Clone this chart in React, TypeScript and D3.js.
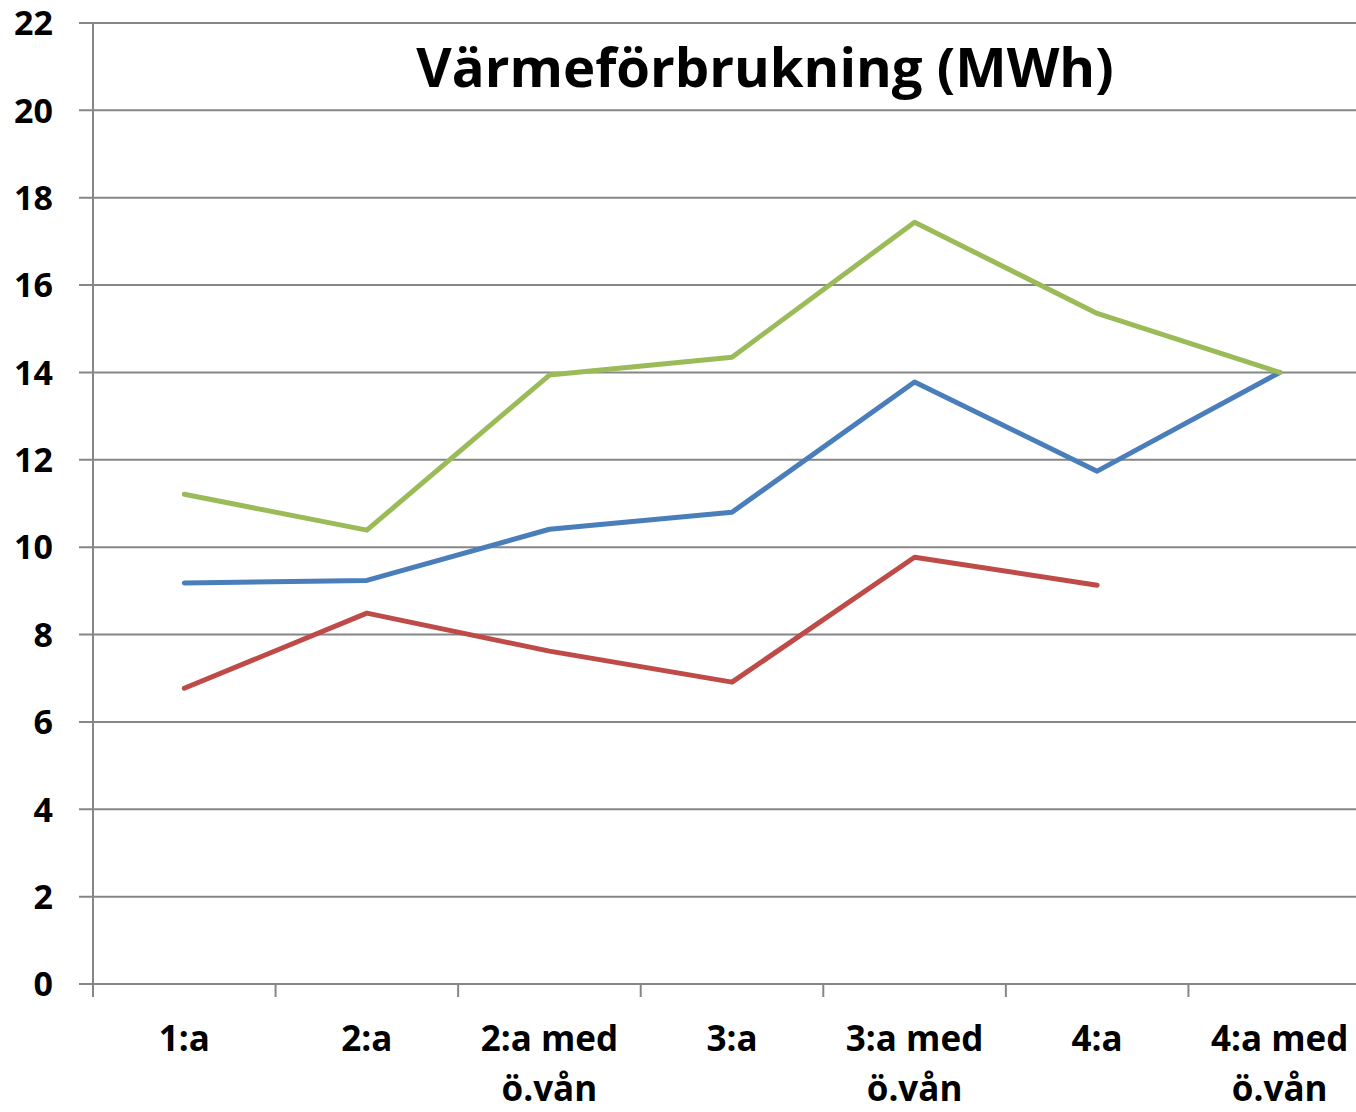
import React from "react";
import * as d3 from "d3";

const categories = [
  ["1:a"],
  ["2:a"],
  ["2:a med", "ö.vån"],
  ["3:a"],
  ["3:a med", "ö.vån"],
  ["4:a"],
  ["4:a med", "ö.vån"],
];
const seriesBlue = [9.18, 9.24, 10.41, 10.8, 13.78, 11.74, 14.0];
const seriesRed = [6.77, 8.49, 7.62, 6.91, 9.77, 9.13, null];
const seriesGreen = [11.21, 10.39, 13.94, 14.35, 17.44, 15.35, 14.0];
const yTicks = [0, 2, 4, 6, 8, 10, 12, 14, 16, 18, 20, 22];
const title = "Värmeförbrukning (MWh)";

const width = 1356;
const height = 1112;
const left = 93;
const right = 1371;
const top = 23;
const bottom = 984;
const font = "'Open Sans', Lato, sans-serif";
const gray = "#868686";

const App = () => {
  const x = d3
    .scaleBand<number>()
    .domain(d3.range(categories.length))
    .range([left, right]);
  const y = d3.scaleLinear().domain([0, 22]).range([bottom, top]);
  const cx = (i: number) => (x(i) as number) + x.bandwidth() / 2;

  const line = d3
    .line<number | null>()
    .defined((d) => d !== null)
    .x((_, i) => cx(i))
    .y((d) => y(d as number));

  const series = [
    { values: seriesBlue, color: "#4a7ebb" },
    { values: seriesRed, color: "#be4b48" },
    { values: seriesGreen, color: "#9bbb59" },
  ];

  const xTicks = d3.range(categories.length + 1).map((i) =>
    i < categories.length ? (x(i) as number) : right
  );

  return (
    <svg
      width={width}
      height={height}
      style={{ position: "absolute", left: 0, top: 0, background: "#fff" }}
    >
      {yTicks.map((t) => (
        <g key={t}>
          <line x1={79} x2={right} y1={y(t)} y2={y(t)} stroke={gray} strokeWidth={2} />
          <text
            x={53}
            y={y(t)}
            dy="0.36em"
            textAnchor="end"
            fontFamily={font}
            fontWeight="bold"
            fontSize={34}
          >
            {t}
          </text>
        </g>
      ))}
      <line x1={left} x2={left} y1={top} y2={bottom + 13} stroke={gray} strokeWidth={2} />
      {xTicks.map((tx, i) => (
        <line key={i} x1={tx} x2={tx} y1={bottom} y2={bottom + 13} stroke={gray} strokeWidth={2} />
      ))}
      {categories.map((lines, i) => (
        <text
          key={i}
          x={cx(i)}
          y={1051}
          textAnchor="middle"
          fontFamily={font}
          fontWeight="bold"
          fontSize={35}
        >
          {lines.map((l, j) => (
            <tspan key={j} x={cx(i)} dy={j === 0 ? 0 : 50}>
              {l}
            </tspan>
          ))}
        </text>
      ))}
      {series.map((s, i) => (
        <path
          key={i}
          d={line(s.values) || ""}
          fill="none"
          stroke={s.color}
          strokeWidth={5}
          strokeLinejoin="round"
          strokeLinecap="round"
        />
      ))}
      <text
        x={765}
        y={87}
        textAnchor="middle"
        fontFamily={font}
        fontWeight="bold"
        fontSize={54.5}
      >
        {title}
      </text>
    </svg>
  );
};

export default App;
